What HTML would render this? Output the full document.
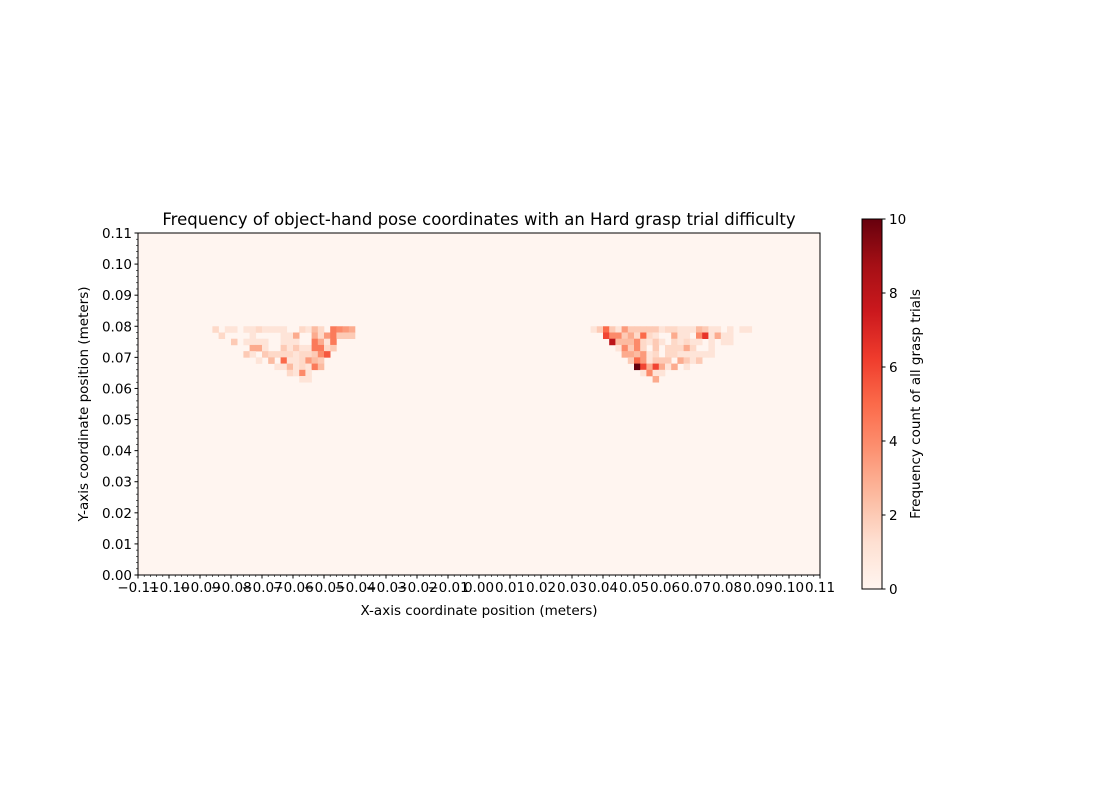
<!DOCTYPE html>
<html><head><meta charset="utf-8"><style>
body{margin:0;background:#fff;}
svg{display:block;font-family:"DejaVu Sans","Liberation Sans",sans-serif;}
</style></head><body>
<svg id="chart" width="1100" height="800" viewBox="0 0 1100 800" xmlns="http://www.w3.org/2000/svg">
<rect width="1100" height="800" fill="#fff"/>
<g id="plot"></g>
<text x="479" y="225" text-anchor="middle" font-size="16.5">Frequency of object-hand pose coordinates with an Hard grasp trial difficulty</text>
<text x="479" y="615" text-anchor="middle" font-size="13.5">X-axis coordinate position (meters)</text>
<text transform="translate(88,404) rotate(-90)" text-anchor="middle" font-size="13.5">Y-axis coordinate position (meters)</text>
<text transform="translate(925,404) rotate(-90)" text-anchor="middle" font-size="13.5" dx="0" dy="-5">Frequency count of all grasp trials</text>
</svg>
<script>
// data: bin width 0.002 m; rows from y=0.078 (top) downward
const binSize = 0.002;
const leftStartX = -0.086;
const rightStartX = 0.036;
const topRowY = 0.078;
const leftRows = [
 [1.5,0,1,1,0,1,1,1.5,1,1,1,1,0,0,1.5,1,2.5,1.5,0,4.5,4,3.5,3],
 [0,1.5,0,0,0,0,1,0,0,0,0,1,1,3,0,0,3,1.5,3.5,4.5,2,2,2],
 [0,0,0,2,0,1,1,1,1,0,0,1,1,1,0,0,4.5,3,1,4.5,0,0,0],
 [0,0,0,0,0,0,3,3,1,0,0,2,1,2,1,1,4.5,4.5,1.5,2,0,0,0],
 [0,0,0,0,0,2,1,0,2,1.5,1.5,1.5,1.5,1,1.5,1.5,2,4,5.5,0,0,0,0],
 [0,0,0,0,0,0,0,1,0,2.5,0,5,1,1,1.5,3.5,2.5,2,0,0,0,0,0],
 [0,0,0,0,0,0,0,0,0,0,1,1,2.5,1,1.5,1,4.5,2.5,0,0,0,0,0],
 [0,0,0,0,0,0,0,0,0,0,0,0,1.5,1,4,1,0,0,0,0,0,0,0],
 [0,0,0,0,0,0,0,0,0,0,0,0,0,0,1,1,0,0,0,0,0,0,0]
];
const rightRows = [
 [1,2,5,2,1,3.5,2,2,2,2,2,1,1.5,1.5,1,1,1,2.5,2,1,1,0,1,0,1,1],
 [0,0,6,4,4,2,3,1.5,5,1.5,1,0,0,3,1,1,0,4,6.5,1,3,1,1,0,0,0],
 [0,0,0,8,2.5,2.5,2.5,4,1.5,1,2,1,0,1.5,1,1.5,1,1,0,1,0,1,1,0,0,0],
 [0,0,0,0,1,4,2,4,1.5,0,2,0,1.5,1.5,1.5,3,1.5,0,0,1,0,0,0,0,0,0],
 [0,0,0,0,0,3,3,2.5,3.5,1,1.5,0,1.5,1.5,1,1,1,1,1,1,0,0,0,0,0,0],
 [0,0,0,0,0,0,2,5,3.5,1,2,2,2,0,3,2,1,2,0,0,0,0,0,0,0,0],
 [0,0,0,0,0,0,0,10,6,3,6,3,1,3,0,1,0,0,0,0,0,0,0,0,0,0],
 [0,0,0,0,0,0,0,0,1,4,1,1,0,0,0,0,0,0,0,0,0,0,0,0,0,0],
 [0,0,0,0,0,0,0,0,0,0,3,0,0,0,0,0,0,0,0,0,0,0,0,0,0,0]
];
const xTicks = [-0.11,-0.10,-0.09,-0.08,-0.07,-0.06,-0.05,-0.04,-0.03,-0.02,-0.01,0.00,0.01,0.02,0.03,0.04,0.05,0.06,0.07,0.08,0.09,0.10,0.11];
const yTicks = [0.00,0.01,0.02,0.03,0.04,0.05,0.06,0.07,0.08,0.09,0.10,0.11];
const cbTicks = [0,2,4,6,8,10];

const NS="http://www.w3.org/2000/svg";
const L=138,R=820,T=233,B=575;
const xMin=-0.11,xMax=0.11,yMin=0,yMax=0.11,vMax=10;
const sx=v=>L+(v-xMin)/(xMax-xMin)*(R-L);
const sy=v=>B-(v-yMin)/(yMax-yMin)*(B-T);
const stops=[[255,245,240],[254,224,210],[252,187,161],[252,146,114],[251,106,74],[239,59,44],[203,24,29],[165,15,21],[103,0,13]];
function cmap(t){t=Math.max(0,Math.min(1,t))*8;const i=Math.min(7,Math.floor(t)),f=t-i;const a=stops[i],b=stops[i+1];
 return `rgb(${a.map((c,k)=>Math.round(c+(b[k]-c)*f)).join(',')})`;}
const g=document.getElementById('plot');
function mk(tag,attrs,parent){const e=document.createElementNS(NS,tag);for(const k in attrs)e.setAttribute(k,attrs[k]);(parent||g).appendChild(e);return e;}
const bg=mk('rect',{x:L,y:T,width:R-L,height:B-T,fill:cmap(0)});


function drawCluster(rows,x0,name){rows.forEach((row,ri)=>{row.forEach((v,ci)=>{if(!v)return;
 const xa=x0+ci*binSize,ya=topRowY-ri*binSize;
 const r=mk('rect',{x:sx(xa),y:sy(ya+binSize),width:sx(xa+binSize)-sx(xa)+0.3,height:sy(ya)-sy(ya+binSize)+0.3,fill:cmap(v/vMax)});
 
 });});}
drawCluster(leftRows,leftStartX,'left-cluster');
drawCluster(rightRows,rightStartX,'right-cluster');
const frame=mk('rect',{x:L,y:T,width:R-L,height:B-T,fill:'none',stroke:'#000','stroke-width':1});


for(let i=0;i<=110;i++){const v=xMin+i*binSize;if(i%5===0)continue;mk('line',{x1:sx(v),x2:sx(v),y1:B,y2:B+2,stroke:'#000','stroke-width':0.6});}
for(let i=0;i<=55;i++){const v=i*binSize;if(i%5===0)continue;mk('line',{x1:L,x2:L-2,y1:sy(v),y2:sy(v),stroke:'#000','stroke-width':0.6});}
xTicks.forEach(v=>{mk('line',{x1:sx(v),x2:sx(v),y1:B,y2:B+3.5,stroke:'#000'});
 const t=mk('text',{x:sx(v),y:B+17,'text-anchor':'middle','font-size':13.5});t.textContent=(v<0?'\u2212':'')+Math.abs(v).toFixed(2);
 
 });
yTicks.forEach(v=>{mk('line',{x1:L,x2:L-3.5,y1:sy(v),y2:sy(v),stroke:'#000'});
 const t=mk('text',{x:L-6,y:sy(v)+5,'text-anchor':'end','font-size':13.5});t.textContent=v.toFixed(2);
 
 });
const CL=862,CR=882,CT=219,CB=589;
const defs=mk('defs',{});const lg=mk('linearGradient',{id:'cb',x1:0,y1:1,x2:0,y2:0},defs);
for(let i=0;i<=16;i++)mk('stop',{offset:i/16,'stop-color':cmap(i/16)},lg);
const cb=mk('rect',{x:CL,y:CT,width:CR-CL,height:CB-CT,fill:'url(#cb)',stroke:'#000','stroke-width':1});


cbTicks.forEach(v=>{const y=CB-v/vMax*(CB-CT);mk('line',{x1:CR,x2:CR+3.5,y1:y,y2:y,stroke:'#000'});
 const t=mk('text',{x:CR+7,y:y+5,'font-size':13.5});t.textContent=v;
 
 });
</script>
</body></html>
